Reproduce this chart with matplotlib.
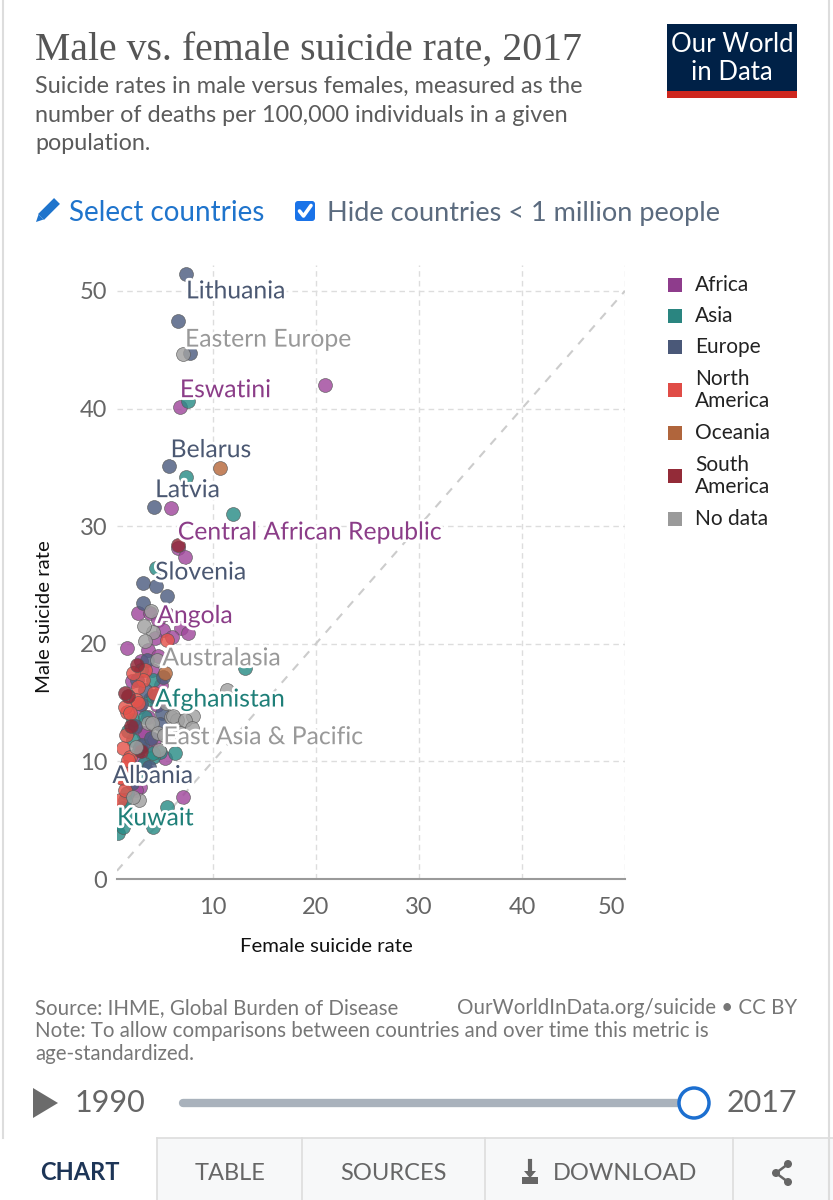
import matplotlib
matplotlib.use("Agg")
import matplotlib.pyplot as plt
import matplotlib.patheffects as pe
from matplotlib.patches import Rectangle, Circle, Polygon, FancyBboxPatch

plt.rcParams['font.family'] = ['Lato', 'DejaVu Sans']

# ---------------- data (female rate, male rate) per continent ----------------
africa_f = [6.8, 20.9, 5.9, 6.6, 7.3, 2.7, 3.9, 4.7, 5.2, 6.9, 7.6, 1.7, 3.7, 4.7, 4.1,
            3.2, 3.7, 3.9, 2.9, 5.4, 2.9, 7.1, 2.8, 3.4, 2.5, 4.4, 3.0, 5.0, 4.6, 2.2, 6.0, 5.6,
            3.6, 4.3, 2.4]
africa_m = [40.1, 42.0, 31.5, 28.1, 27.4, 22.6, 22.6, 22.0, 21.2, 21.3, 20.9, 19.6, 19.5, 19.0, 17.8,
            12.4, 13.8, 11.4, 10.1, 10.3, 7.8, 7.0, 14.6, 12.4, 7.6, 20.5, 18.5, 16.5, 14.8, 16.8, 20.6, 22.5,
            9.2, 11.8, 12.9]

asia_f = [7.6, 7.4, 12.0, 4.5, 4.2, 3.9, 2.3, 2.3, 4.9, 6.3, 4.2, 2.6, 1.7, 1.3, 5.6, 0.8, 0.8,
          1.3, 4.2, 3.4, 4.2, 1.5, 13.1, 4.2, 3.0, 1.8, 2.0, 3.3, 2.8]
asia_m = [40.6, 34.2, 31.0, 26.4, 16.9, 15.3, 13.5, 11.8, 10.8, 10.7, 10.4, 9.0, 7.3, 6.0, 6.1, 4.8, 3.9,
          4.4, 4.4, 13.8, 10.7, 6.7, 17.9, 15.6, 17.8, 12.6, 5.4, 9.8, 11.0]

europe_f = [7.4, 6.6, 7.8, 5.7, 4.3, 3.2, 4.5, 5.6, 3.2, 2.6, 3.4, 4.5, 2.9, 2.2, 5.1, 3.1, 3.6,
            4.0, 2.4, 3.8, 5.2, 1.9, 4.9, 3.0]
europe_m = [51.4, 47.4, 44.7, 35.1, 31.6, 25.2, 24.9, 24.1, 23.5, 16.9, 16.1, 15.6, 11.2, 8.2, 14.1, 11.4, 18.6,
            12.0, 13.0, 9.5, 17.2, 9.0, 13.2, 14.9]

namerica_f = [5.6, 3.4, 3.2, 2.7, 2.5, 2.7, 1.7, 1.3, 2.0, 1.5, 1.3, 1.0, 1.5, 2.0, 1.8, 1.2, 1.5, 2.3, 1.6, 4.3]
namerica_m = [20.3, 17.8, 16.9, 16.3, 15.2, 15.0, 14.2, 11.1, 10.4, 9.5, 8.6, 6.7, 14.6, 14.1, 10.1, 8.6, 7.6, 17.5, 12.2, 15.8]

oceania_f = [10.7, 5.4]
oceania_m = [34.9, 17.5]

samerica_f = [6.6, 1.8, 1.5, 2.1, 3.0, 2.6]
samerica_m = [28.4, 15.6, 15.8, 13.0, 10.9, 18.2]

nodata_f = [7.1, 4.2, 3.4, 4.6, 3.7, 5.9, 6.5, 8.1, 4.1, 6.1, 7.3, 8.0, 4.7, 2.5, 2.8, 2.3, 11.4,
            5.3, 5.5, 4.0, 6.8, 4.8, 3.3]
nodata_m = [44.6, 21.0, 20.2, 18.6, 13.3, 13.8, 13.5, 13.9, 13.3, 13.9, 13.5, 12.8, 12.4, 11.2, 6.7, 7.0, 16.1,
            12.2, 15.0, 22.8, 12.4, 11.0, 21.5]

legend_names = ["Africa", "Asia", "Europe", "North\nAmerica", "Oceania", "South\nAmerica", "No data"]
dot_colors = ["#a0489c", "#2a8c86", "#4d5d80", "#e5534b", "#b8693c", "#8f2736", "#a0a0a0"]
legend_colors = ["#8e3c8c", "#2a8580", "#4a5878", "#e04c46", "#b0653c", "#932b38", "#9a9a9a"]

labels = ["Lithuania", "Eastern Europe", "Eswatini", "Belarus", "Latvia", "Central African Republic",
          "Slovenia", "Angola", "Australasia", "Afghanistan", "East Asia & Pacific", "Albania", "Kuwait"]
label_x = [7.4, 7.3, 6.8, 5.9, 4.4, 6.6, 4.4, 4.6, 5.1, 4.4, 5.2, 0.25, 0.7]
label_y = [50.0, 45.9, 41.6, 36.5, 33.1, 29.5, 26.1, 22.4, 18.8, 15.3, 12.1, 8.8, 5.2]
label_colors = ["#4b5872", "#999999", "#8b3d88", "#4b5872", "#4b5872", "#8b3d88",
                "#4b5872", "#8b3d88", "#999999", "#1e7f78", "#999999", "#4b5872", "#1e7f78"]

x_ticks = [10, 20, 30, 40, 50]
y_ticks = [0, 10, 20, 30, 40, 50]

# ---------------- figure ----------------
W, H = 833, 1200
fig = plt.figure(figsize=(W / 100, H / 100), dpi=100)
fig.patch.set_facecolor("white")

ov = fig.add_axes([0, 0, 1, 1], zorder=0)
ov.set_xlim(0, W)
ov.set_ylim(H, 0)
ov.axis("off")

ax = fig.add_axes([117 / W, 1 - 879 / H, (625 - 117) / W, (879 - 265) / H], zorder=2)
ax.patch.set_alpha(0)
ax.set_xlim(0.7, 50)
ax.set_ylim(0, 52.2)
for s in ["top", "right", "left"]:
    ax.spines[s].set_visible(False)
ax.spines["bottom"].set_color("#9a9a9a")
ax.spines["bottom"].set_linewidth(1.5)
ax.set_xticks(x_ticks)
ax.set_yticks(y_ticks)
ax.tick_params(axis="both", length=0, labelsize=17, colors="#666666")
ax.tick_params(axis="y", pad=7)
ax.tick_params(axis="x", pad=13)
ax.get_xticklabels()[-1].set_horizontalalignment("right")
ax.grid(True, color="#dddddd", linestyle=(0, (4, 3)), linewidth=1)
ax.set_axisbelow(True)
ax.plot([0.7, 50], [0.7, 50], color="#cccccc", linestyle=(0, (4, 4)), linewidth=1.5, zorder=1)

series = [(africa_f, africa_m), (asia_f, asia_m), (europe_f, europe_m), (namerica_f, namerica_m),
          (oceania_f, oceania_m), (samerica_f, samerica_m), (nodata_f, nodata_m)]
order = [6, 0, 1, 2, 3, 4, 5]
for i in order:
    fx_, my_ = series[i]
    ax.scatter(fx_, my_, s=100, color=dot_colors[i], alpha=0.82, edgecolors="#555555",
               linewidths=0.5, zorder=3 + i * 0.01)

for t, x, y, c in zip(labels, label_x, label_y, label_colors):
    ax.text(x, y, t, color=c, fontsize=17.8, va="center", ha="left", zorder=10, clip_on=False,
            path_effects=[pe.withStroke(linewidth=4, foreground="white")])

# axis titles
ov.text(326, 946, "Female suicide rate", fontsize=14.7, color="#111111", ha="center", va="center")
ov.text(45, 617, "Male suicide rate", fontsize=14.7, color="#111111", ha="center", va="center", rotation=90)

# ---------------- header ----------------
ov.text(35, 60, "Male vs. female suicide rate, 2017", family=["Liberation Serif", "DejaVu Serif"],
        fontsize=28.6, color="#555555", ha="left", va="baseline")
sub = ["Suicide rates in male versus females, measured as the",
       "number of deaths per 100,000 individuals in a given",
       "population."]
for k, line in enumerate(sub):
    ov.text(35, 93 + 28.5 * k, line, fontsize=16.8, color="#5b5b5b", ha="left", va="baseline")

# logo
ov.add_patch(Rectangle((667, 24), 130, 68, facecolor="#002147", edgecolor="none"))
ov.add_patch(Rectangle((667, 91), 130, 7, facecolor="#ce261e", edgecolor="none"))
ov.text(732, 45, "Our World", color="white", fontsize=18.5, ha="center", va="center")
ov.text(732, 73, "in Data", color="white", fontsize=18.5, ha="center", va="center")

# select countries / checkbox
ov.plot([41, 57], [217, 201], color="#1f74cc", lw=6, solid_capstyle="butt")
ov.add_patch(Polygon([[36, 222], [38.5, 214.5], [43.5, 219.5]], closed=True, facecolor="#1f74cc", edgecolor="none"))
ov.text(69, 221, "Select countries", fontsize=20, color="#1f74cc", ha="left", va="baseline")
ov.add_patch(FancyBboxPatch((295, 201), 20, 20, boxstyle="round,pad=0,rounding_size=3",
                            facecolor="#1a73e8", edgecolor="none"))
ov.plot([299.5, 303.5, 311], [211, 216, 205.5], color="white", lw=2.6, solid_capstyle="round")
ov.text(327, 221, "Hide countries < 1 million people", fontsize=19.5, color="#5b6b7f", ha="left", va="baseline")

# ---------------- legend ----------------
leg_y = [285, 316, 347, 390, 433, 476, 519]
for name, c, y in zip(legend_names, legend_colors, leg_y):
    ov.add_patch(Rectangle((668, y - 7), 14, 14, facecolor=c, edgecolor="none"))
    ov.text(695, y, name, fontsize=15, color="#222222", ha="left", va="center", linespacing=1.15)

# ---------------- footer ----------------
ov.text(35, 1014, "Source: IHME, Global Burden of Disease", fontsize=14.8, color="#777777", ha="left", va="baseline")
ov.text(797, 1014, "OurWorldInData.org/suicide • CC BY", fontsize=14.8, color="#777777", ha="right", va="baseline")
ov.text(35, 1037, "Note: To allow comparisons between countries and over time this metric is",
        fontsize=14.8, color="#777777", ha="left", va="baseline")
ov.text(35, 1060, "age-standardized.", fontsize=14.8, color="#777777", ha="left", va="baseline")

# timeline
ov.add_patch(Polygon([[33, 1088], [33, 1118], [58, 1103]], closed=True, facecolor="#6b6b6b", edgecolor="none"))
ov.text(75, 1103, "1990", fontsize=22, color="#666666", ha="left", va="center")
ov.plot([183, 692], [1103, 1103], color="#a9b2bc", lw=6, solid_capstyle="round")
ov.add_patch(Circle((694, 1103), 15, facecolor="white", edgecolor="#1c6fd0", lw=2.5, zorder=5))
ov.text(797, 1103, "2017", fontsize=22, color="#666666", ha="right", va="center")

# tabs
ov.add_patch(Rectangle((157, 1138), W - 157, H - 1138, facecolor="#f7f8f9", edgecolor="none"))
ov.plot([157, W], [1138, 1138], color="#dddddd", lw=1.2)
for xv in [157, 302, 485, 733]:
    ov.plot([xv, xv], [1138, H], color="#dddddd", lw=1.2)
ov.text(80, 1173, "CHART", fontsize=17, color="#1d3557", ha="center", va="center", fontweight="bold")
ov.text(230, 1173, "TABLE", fontsize=17, color="#666666", ha="center", va="center")
ov.text(393, 1173, "SOURCES", fontsize=17, color="#666666", ha="center", va="center")
ov.text(553, 1173, "DOWNLOAD", fontsize=17, color="#666666", ha="left", va="center")
# download icon
ov.plot([530, 530], [1161, 1174], color="#666666", lw=3)
ov.add_patch(Polygon([[524, 1171], [536, 1171], [530, 1178]], closed=True, facecolor="#666666", edgecolor="none"))
ov.add_patch(Polygon([[522, 1177], [538, 1177], [538, 1184], [522, 1184]], closed=True, facecolor="#666666", edgecolor="none"))
# share icon
pts = [(788, 1164), (776, 1173), (788, 1182)]
ov.plot([pts[0][0], pts[1][0], pts[2][0]], [pts[0][1], pts[1][1], pts[2][1]], color="#666666", lw=1.8)
for p in pts:
    ov.add_patch(Circle(p, 4, facecolor="#666666", edgecolor="none"))

# outer borders
ov.plot([3, 3], [0, 1138], color="#dddddd", lw=1.5)
ov.plot([829, 829], [0, H], color="#dddddd", lw=1.5)

fig.savefig("out.png", dpi=100, facecolor="white")
